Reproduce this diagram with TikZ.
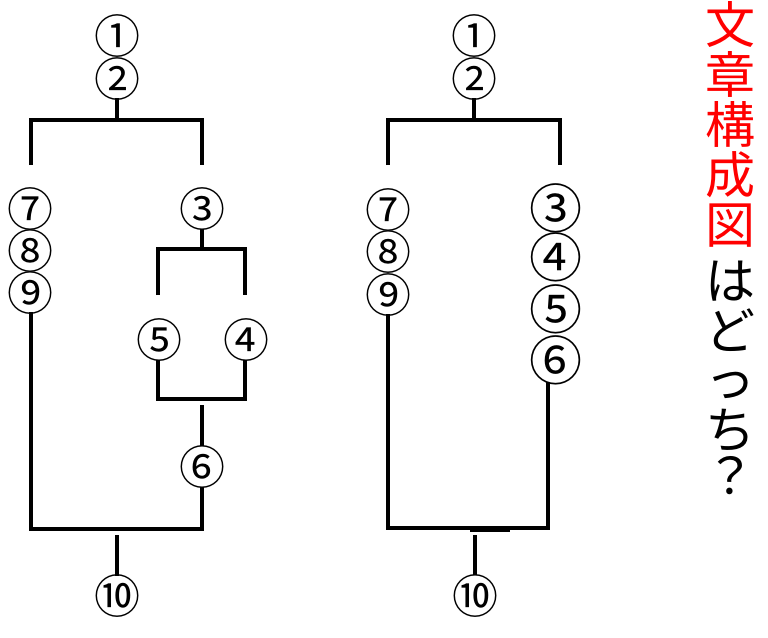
\documentclass[tikz,border=0pt]{standalone}
\usepackage{fontspec}
\newfontfamily\circfont{Noto Sans CJK JP}
\newfontfamily\jpfont{Noto Sans CJK JP}
\begin{document}
\begin{tikzpicture}[x=1pt,y=-1pt,
  num/.style={inner sep=0pt,font=\circfont\fontsize{46}{46}\selectfont,text height=40.5pt,text depth=5.5pt},
  bignum/.style={num,font=\circfont\fontsize{53}{53}\selectfont,text height=46.6pt,text depth=6.4pt},
  wire/.style={line width=3.5pt,line cap=butt,line join=miter},
  vch/.style={inner sep=0pt,anchor=base,font=\jpfont\fontsize{50}{50}\selectfont},
  red/.style={vch,text={rgb,255:red,255;green,0;blue,0}}]
\useasboundingbox (0,0) rectangle (768,637);
\fill[white] (0,0) rectangle (768,637);

% ---------- left tree ----------
\node[num] (La) at (117,36) {①};
\node[num] (Lb) at (117,79) {②};
\node[num] (Lg) at (30,209) {⑦};
\node[num] (Lh) at (30,251) {⑧};
\node[num] (Li) at (30,293) {⑨};
\node[num] (Lc) at (202,209) {③};
\node[num] (Le) at (159,340) {⑤};
\node[num] (Ld) at (246,340) {④};
\node[num] (Lf) at (202,467) {⑥};
\node[num] (Lj) at (117,596) {⑩};

\coordinate (Lb1) at (117,98);  \coordinate (Lb2) at (117,120);
\coordinate (Lbl) at (31,120);  \coordinate (Lbr) at (202,120);
\coordinate (Lbl2) at (31,165); \coordinate (Lbr2) at (202,165);
\coordinate (Lc1) at (202,229); \coordinate (Lc2) at (202,249);
\coordinate (Lcl) at (158,249); \coordinate (Lcr) at (245,249);
\coordinate (Lcl2) at (158,295);\coordinate (Lcr2) at (245,295);
\coordinate (Le1) at (158,360); \coordinate (Ld1) at (245,360);
\coordinate (Le2) at (158,399); \coordinate (Ld2) at (245,399);
\coordinate (Lf0) at (202,405); \coordinate (Lf1) at (202,446);
\coordinate (Lf2) at (202,487); \coordinate (Lf3) at (202,529);
\coordinate (Li1) at (31,312);  \coordinate (Li2) at (31,529);
\coordinate (Lj0) at (117,535); \coordinate (Lj1) at (117,576);

\draw[wire] (Lb1) -- (Lb2);
\draw[wire] (Lbl2) -- (Lbl) -- (Lbr) -- (Lbr2);
\draw[wire] (Lc1) -- (Lc2);
\draw[wire] (Lcl2) -- (Lcl) -- (Lcr) -- (Lcr2);
\draw[wire] (Le1) -- (Le2) -- (Ld2) -- (Ld1);
\draw[wire] (Lf0) -- (Lf1);
\draw[wire] (Lf2) -- (Lf3) -- (Li2) -- (Li1);
\draw[wire] (Lj0) -- (Lj1);

% ---------- right tree ----------
\node[num] (Ra) at (474,36) {①};
\node[num] (Rb) at (474,79) {②};
\node[num] (Rg) at (388,210) {⑦};
\node[num] (Rh) at (388,252) {⑧};
\node[num] (Ri) at (388,295) {⑨};
\node[bignum] (Rc) at (556,208) {③};
\node[bignum] (Rd) at (556,257) {④};
\node[bignum] (Re) at (556,309) {⑤};
\node[bignum] (Rf) at (556,360) {⑥};
\node[num] (Rj) at (475,596) {⑩};

\coordinate (Rb1) at (474,98);  \coordinate (Rb2) at (474,120);
\coordinate (Rbl) at (388,120); \coordinate (Rbr) at (560,120);
\coordinate (Rbl2) at (388,165);\coordinate (Rbr2) at (560,165);
\coordinate (Rf1) at (548,382); \coordinate (Rf2) at (548,528);
\coordinate (Ri1) at (388,314); \coordinate (Ri2) at (388,528);
\coordinate (Rk1) at (470,529.5); \coordinate (Rk2) at (510,529.5);
\coordinate (Rj0) at (475,535); \coordinate (Rj1) at (475,575);

\draw[wire] (Rb1) -- (Rb2);
\draw[wire] (Rbl2) -- (Rbl) -- (Rbr) -- (Rbr2);
\draw[wire] (Rf1) -- (Rf2) -- (Ri2) -- (Ri1);
\draw[wire,line width=4.5pt] (Rk1) -- (Rk2);
\draw[wire] (Rj0) -- (Rj1);

% ---------- vertical title ----------
\node[red] (t1) at (730,43) {文};
\node[red] (t2) at (730,93) {章};
\node[red] (t3) at (730,143) {構};
\node[red] (t4) at (730,193) {成};
\node[red] (t5) at (730,243) {図};
\node[vch] (t6) at (730,299) {は};
\node[vch] (t7) at (730,349) {ど};
\node[vch] (t8) at (730,397) {っ};
\node[vch] (t9) at (730,448) {ち};
\node[vch] (t10) at (730,494) {？};
\end{tikzpicture}
\end{document}
